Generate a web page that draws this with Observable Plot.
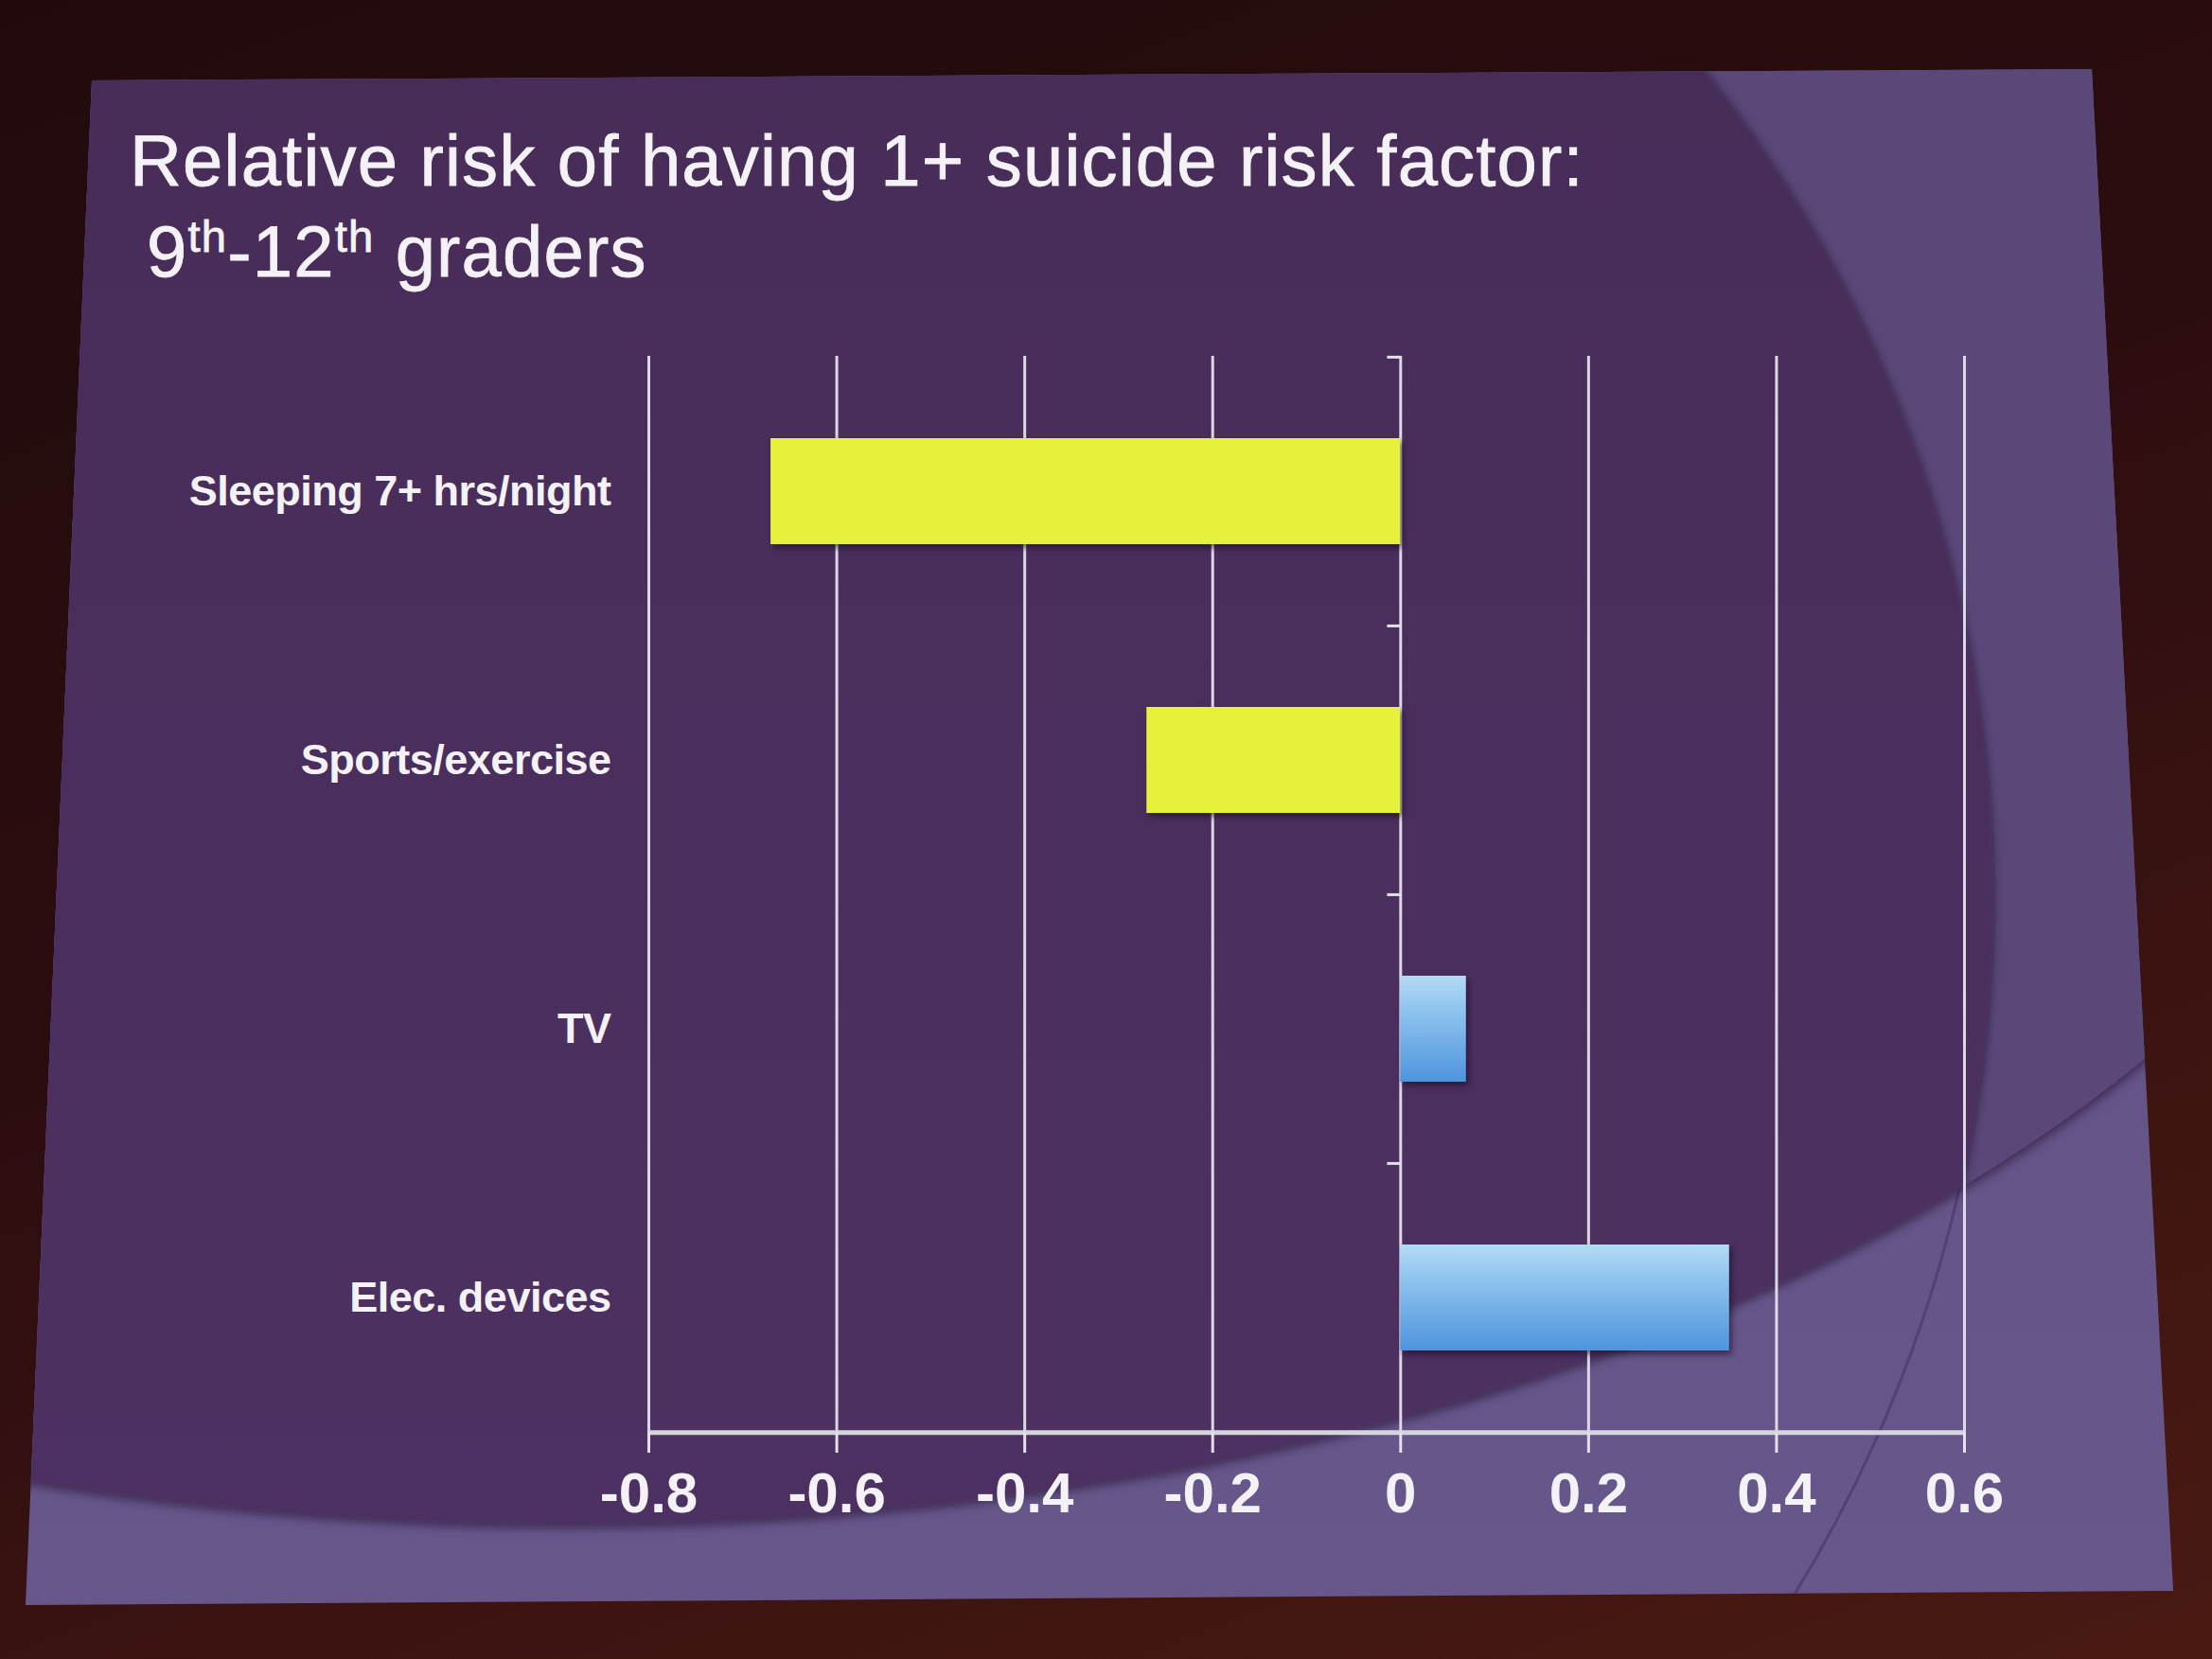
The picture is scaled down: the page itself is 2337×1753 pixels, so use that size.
<!DOCTYPE html>
<html>
<head>
<meta charset="utf-8">
<script src="https://cdn.jsdelivr.net/npm/d3@7"></script>
<script src="https://cdn.jsdelivr.net/npm/@observablehq/plot@0.6"></script>
<style>
  html, body { margin: 0; padding: 0; }
  body {
    width: 2337px; height: 1753px; overflow: hidden; position: relative;
    background: linear-gradient(160deg, #220a0c 0%, #2c0d0f 45%, #4a1a12 100%);
    font-family: "Liberation Sans", Arial, sans-serif;
  }
  #slide {
    position: absolute; left: 0; top: 0; width: 2337px; height: 1753px; overflow: hidden;
    clip-path: polygon(97px 85px, 2210px 73px, 2296px 1681px, 27px 1696px);
    background: linear-gradient(180deg, #5f4e82 0%, #67578b 100%);
  }
  #ellA {
    position: absolute; left: -1400px; top: -590px; width: 4000px; height: 2200px;
    border-radius: 50%; overflow: hidden; background: #594878;
    box-shadow: 0 3px 10px 2px rgba(35,15,45,0.55);
  }
  #ellB {
    position: absolute; left: 695px; top: 135px; width: 2810px; height: 2810px;
    border-radius: 50%; background: linear-gradient(180deg, #462b55 0%, #4b3060 60%, #4c3262 100%);
    box-shadow: 0 0 8px 2px rgba(35,15,45,0.6);
  }
  #ringB {
    position: absolute; left: -705px; top: -455px; width: 2810px; height: 2810px;
    border-radius: 50%; border: 3px solid rgba(70,50,95,0.55); box-sizing: border-box;
  }
  #title {
    position: absolute; left: 137px; top: 122px;
    color: #f4f2f7; font-size: 76px; line-height: 96px; letter-spacing: 1.2px;
    -webkit-text-stroke: 0.8px #f4f2f7;
    font-family: "Liberation Sans", Arial, sans-serif;
  }
  #title .l2 { padding-left: 18px; }
  #title sup { font-size: 0.62em; vertical-align: 0; position: relative; top: -0.55em; line-height: 0; }
  #chart { position: absolute; left: 0; top: 0; }
  .bars rect { filter: drop-shadow(3px 4px 3px rgba(20,5,30,0.55)); }
  .ylab text { letter-spacing: -0.5px; }
</style>
</head>
<body>
<div id="slide"><div id="ringB"></div><div id="ellA"><div id="ellB"></div></div></div>
<div id="title">Relative risk of having 1+ suicide risk factor:<br><span class="l2">9<sup>th</sup>-12<sup>th</sup> graders</span></div>
<div id="chart"></div>
<script>
const categories = ["Sleeping 7+ hrs/night", "Sports/exercise", "TV", "Elec. devices"];
const values = [-0.67, -0.27, 0.07, 0.35];
const xTicks = [-0.8, -0.6, -0.4, -0.2, 0, 0.2, 0.4, 0.6];

const data = categories.map((c, i) => ({category: c, value: values[i]}));

const W = 2337, H = 1753;
const mTop = 376, mBottom = 240, mLeft = 685, mRight = 262;
const step = (H - mTop - mBottom) / categories.length;
const inset = 86;

const defs = () => {
  const g = d3.create("svg:g");
  const grad = g.append("defs").append("linearGradient")
    .attr("id", "blueGrad").attr("x1", 0).attr("y1", 0).attr("x2", 0).attr("y2", 1);
  grad.append("stop").attr("offset", "0%").attr("stop-color", "#b3daf5");
  grad.append("stop").attr("offset", "35%").attr("stop-color", "#8cc2ee");
  grad.append("stop").attr("offset", "100%").attr("stop-color", "#4f94dd");
  return g.node();
};

const chart = Plot.plot({
  width: W,
  height: H,
  marginTop: mTop,
  marginBottom: mBottom,
  marginLeft: mLeft,
  marginRight: mRight,
  style: {background: "transparent", color: "#f4f2f7", fontFamily: "'Liberation Sans', Arial, sans-serif"},
  x: {domain: [-0.8, 0.6], label: null},
  y: {domain: categories, padding: 0, label: null},
  marks: [
    defs,
    Plot.ruleX(xTicks, {stroke: "#e4e0ee", strokeWidth: 3, strokeOpacity: 0.95}),
    Plot.barX(data.filter(d => d.value < 0), {
      x: "value", y: "category", fill: "#e6f23a", insetTop: inset, insetBottom: inset, className: "bars"
    }),
    Plot.barX(data.filter(d => d.value >= 0), {
      x: "value", y: "category", fill: "url(#blueGrad)", insetTop: inset, insetBottom: inset, className: "bars"
    }),
    Plot.ruleY(categories, {y: d => d, x1: -0.014, x2: 0, dy: -step / 2, stroke: "#e4e0ee", strokeWidth: 3}),
    Plot.ruleY([categories[categories.length - 1]], {
      y: d => d, x1: -0.8, x2: 0.6, dy: step / 2, stroke: "#d6d4dc", strokeWidth: 5
    }),
    Plot.axisX({
      ticks: xTicks, tickSize: 22, tickPadding: 20, tickFormat: d => String(d), label: null,
      fontSize: 60, fontWeight: "bold", stroke: "#e4e0ee", strokeWidth: 3
    }),
    Plot.axisY({
      tickSize: 0, tickPadding: 40, fontSize: 45, fontWeight: "bold", label: null, className: "ylab"
    })
  ]
});
document.getElementById("chart").appendChild(chart);
</script>
</body>
</html>
